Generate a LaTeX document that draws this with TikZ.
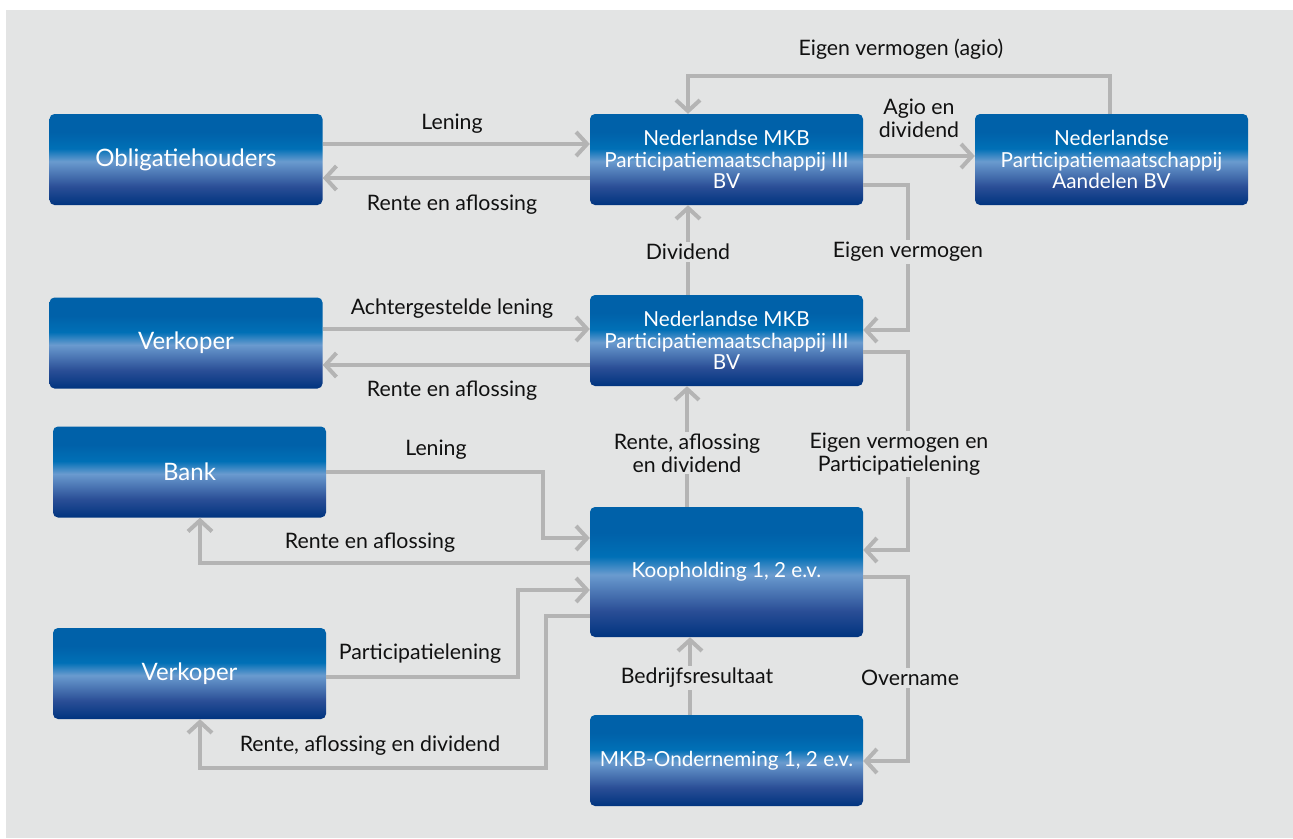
\documentclass[tikz,border=0pt]{standalone}
\usepackage{fontspec}
\setmainfont{Lato}
\usetikzlibrary{arrows.meta}
\definecolor{bg}{HTML}{E3E4E4}
\definecolor{ln}{HTML}{B4B4B4}
\definecolor{bnavy}{HTML}{00347F}
\definecolor{bmidd}{HTML}{2A4E96}
\definecolor{blight}{HTML}{6A9BCF}
\definecolor{bblu}{HTML}{0070B6}
\definecolor{btop}{HTML}{0061A9}
\definecolor{txt}{HTML}{111111}
\pgfdeclareverticalshading{boxshade}{100bp}{color(0bp)=(bnavy); color(25bp)=(bnavy); color(35bp)=(bmidd); color(49bp)=(blight); color(56bp)=(bblu); color(65bp)=(btop); color(75bp)=(btop); color(100bp)=(btop)}
\begin{document}
\begin{tikzpicture}[x=1pt,y=-1pt,
  box/.style={rounded corners=5pt, shade, shading=boxshade, text=white, align=center,
    font=\fontsize{20.7}{21.5}\selectfont, minimum width=273pt, minimum height=91pt, inner sep=0pt},
  bigbox/.style={box, font=\fontsize{24}{26}\selectfont},
  flow/.style={draw=ln, line width=4pt, -{Straight Barb[length=11pt,width=24pt]}},
  lbl/.style={font=\fontsize{21.3}{23}\selectfont, align=center, text=txt, inner sep=2pt},
  lblf/.style={lbl, fill=bg}]
\useasboundingbox (0,0) rectangle (1293,838);
\fill[white] (0,0) rectangle (1293,838);
\fill[bg] (6,10) rectangle (1293,838);

% boxes
\node[bigbox] (obl) at (186,159.5) {Obligatiehouders};
\node[box] (mkb1) at (726.5,159.5) {Nederlandse MKB\\Participatiemaatschappij III\\BV};
\node[box] (aand) at (1111.5,159.5) {Nederlandse\\Participatiemaatschappij\\Aandelen BV};
\node[bigbox] (verk1) at (186,343) {Verkoper};
\node[box] (mkb2) at (726.5,340.5) {Nederlandse MKB\\Participatiemaatschappij III\\BV};
\node[bigbox] (bank) at (189.5,472) {Bank};
\node[box, minimum height=130pt] (koop) at (726.5,572) {Koopholding 1, 2 e.v.};
\node[bigbox] (verk2) at (189.5,673.5) {Verkoper};
\node[box] (mkbo) at (726.5,760.5) {MKB-Onderneming 1, 2 e.v.};

% connectors
\draw[flow] (obl.east |- 0,144) -- (mkb1.west |- 0,144);
\draw[flow] (mkb1.west |- 0,178) -- (obl.east |- 0,178);
\draw[flow] (aand.north -| 1110,0) -- (1110,76) -- (688,76) -- (mkb1.north -| 688,0);
\draw[flow] (mkb1.east |- 0,156) -- (aand.west |- 0,156);
\draw[flow] (mkb1.east |- 0,185) -- (908,185) -- (908,330) -- (mkb2.east |- 0,330);
\draw[flow] (mkb2.north -| 688,0) -- (mkb1.south -| 688,0);
\draw[flow] (verk1.east |- 0,329) -- (mkb2.west |- 0,329);
\draw[flow] (mkb2.west |- 0,365) -- (verk1.east |- 0,365);
\draw[flow] (mkb2.east |- 0,352) -- (908,352) -- (908,550) -- (koop.east |- 0,550);
\draw[flow] (koop.north -| 687,0) -- (mkb2.south -| 687,0);
\draw[flow] (bank.east |- 0,472) -- (543,472) -- (543,538) -- (koop.west |- 0,538);
\draw[flow] (koop.west |- 0,563) -- (200,563) -- (bank.south -| 200,0);
\draw[flow] (verk2.east |- 0,677) -- (518,677) -- (518,590) -- (koop.west |- 0,590);
\draw[flow] (koop.west |- 0,616) -- (546,616) -- (546,768) -- (200,768) -- (verk2.south -| 200,0);
\draw[flow] (mkbo.north -| 690,0) -- (koop.south -| 690,0);
\draw[flow] (koop.east |- 0,577) -- (908,577) -- (908,761) -- (mkbo.east |- 0,761);

% labels
\node[lbl] (l1) at (452,124) {Lening};
\node[lbl] (l2) at (452,205) {Rente en aflossing};
\node[lbl] (l3) at (901,49) {Eigen vermogen (agio)};
\node[lbl] (l4) at (919,118) {Agio en\\dividend};
\node[lblf] (l5) at (908,252) {Eigen vermogen};
\node[lblf] (l6) at (688,252) {Dividend};
\node[lbl] (l7) at (452,309) {Achtergestelde lening};
\node[lbl] (l8) at (452,391) {Rente en aflossing};
\node[lblf] (l9) at (899,454) {Eigen vermogen en\\Participatielening};
\node[lblf] (l10) at (687,453) {Rente, aflossing\\en dividend};
\node[lbl] (l11) at (436,450) {Lening};
\node[lbl] (l12) at (370,543) {Rente en aflossing};
\node[lbl] (l13) at (420,654) {Participatielening};
\node[lbl] (l14) at (370,746) {Rente, aflossing en dividend};
\node[lblf] (l15) at (697,678) {Bedrijfsresultaat};
\node[lblf] (l16) at (910,678) {Overname};
\end{tikzpicture}
\end{document}
